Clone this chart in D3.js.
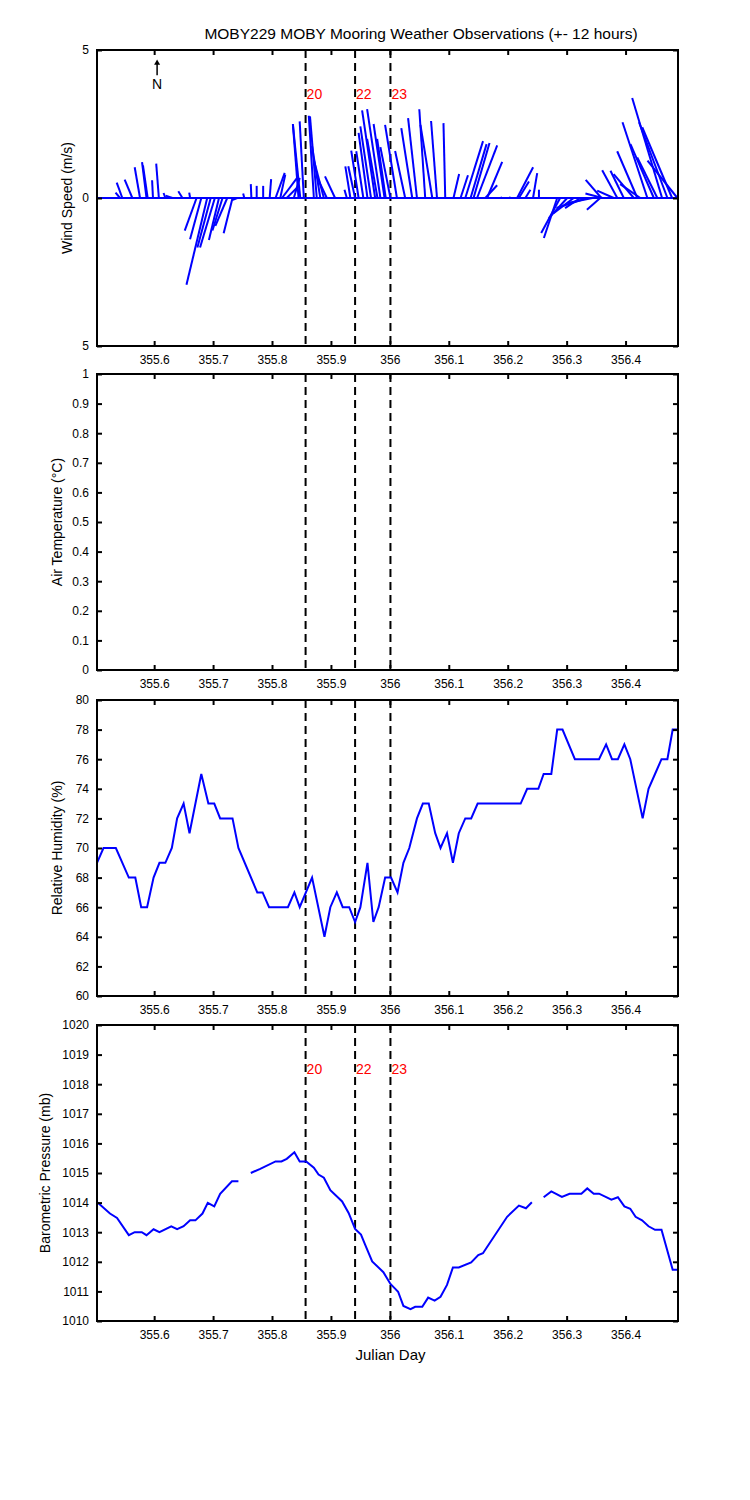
<!DOCTYPE html>
<html>
<head>
<meta charset="utf-8">
<script src="https://cdn.jsdelivr.net/npm/d3@7"></script>
<style>
  body { margin: 0; background: #fff; }
  text { font-family: 'Liberation Sans', Arial, sans-serif; }
</style>
</head>
<body>
<div id="chart"></div>
<script>
// x axis (Julian day)
const xTicks = [355.6, 355.7, 355.8, 355.9, 356, 356.1, 356.2, 356.3, 356.4]
const eventTimes = [355.857, 355.941, 356.001]
const eventLabels = ['20', '22', '23']

// wind sticks: start time, east and north components (m/s)
const windTime = [
  355.542, 355.546, 355.563, 355.576, 355.587, 355.589, 355.598, 355.608, 355.619, 355.631, 355.648, 355.661,
  355.672, 355.680, 355.690, 355.696, 355.703, 355.710, 355.716, 355.724, 355.733, 355.741,
  355.753, 355.765, 355.774, 355.785, 355.796, 355.806, 355.814, 355.817, 355.825, 355.837,
  355.845, 355.848, 355.854, 355.871, 355.876, 355.882, 355.888, 355.893, 355.907, 355.927, 355.933, 355.941,
  355.947, 355.955, 355.962, 355.968, 355.975, 355.979, 355.984, 355.991, 355.993,
  356.001, 356.012, 356.026, 356.038, 356.046, 356.060, 356.072, 356.080, 356.094,
  356.108, 356.120, 356.128, 356.137, 356.142, 356.148, 356.162, 356.165, 356.188, 356.205,
  356.216, 356.219, 356.230, 356.243, 356.253,
  356.284, 356.289, 356.301, 356.312, 356.323, 356.335, 356.344, 356.357, 356.359, 356.361,
  356.380, 356.386, 356.397, 356.414, 356.420, 356.425, 356.437, 356.448, 356.454, 356.462, 356.471, 356.479, 356.488
]
const windU = [
  -0.15, -0.19, -0.26, -0.18, -0.15, -0.16, -0.03, -0.09, -0.06, -0.23, -0.14, -0.03,
  -0.40, -0.38, -0.70, -0.45, -0.50, -0.34, -0.34, -0.40, -0.30, -0.17,
  -0.04, -0.02, 0, 0, 0.05, 0.31, 0.17, 0.51, 0.40, 0.20,
  -0.19, -0.25, -0.14, -0.17, -0.23, -0.28, -0.34, -0.34, -0.34, -0.08, -0.17, -0.23,
  -0.25, -0.24, -0.30, -0.36, -0.44, -0.35, -0.45, -0.37, -0.29,
  -0.34, -0.40, -0.34, -0.37, -0.30, -0.20, -0.40, -0.20, -0.06,
  0.19, 0.25, 0.60, 0.54, 0.54, 0.68, 0.40, 0.51, 0.05, -0.05,
  0.54, 0.34, 0.17, 0.14, 0,
  -0.45, -0.64, -0.62, -0.68, -0.51, -1.04, -0.84, -0.45, -0.53, -0.58,
  -0.56, -0.51, -0.45, -0.68, -0.68, -0.68, -0.84, -0.79, -0.68, -1.01, -0.96, -1.01, -1.01
]
const windV = [
  0.18, 0.52, 0.62, 1.04, 1.21, 1.10, 0.60, 1.16, 0.17, 0.08, 0.23, 0.18,
  -1.10, -1.39, -2.93, -1.67, -1.67, -1.42, -1.10, -0.94, -1.19, -0.07,
  0.15, 0.47, 0.41, 0.41, 0.64, 0.85, 0.79, 0.68, 0.40, 0.68,
  2.50, 2.48, 2.59, 2.78, 2.76, 1.75, 1.29, 0.73, 0.73, 0.28, 1.07, 1.07,
  1.60, 1.58, 2.20, 2.42, 2.96, 2.00, 3.00, 2.50, 2.00,
  1.72, 2.47, 1.59, 2.36, 2.70, 3.00, 2.47, 2.60, 2.53,
  0.81, 0.77, 1.92, 1.82, 1.86, 1.78, 0.43, 1.22, 0.02, 0.03,
  1.04, 0.56, 0.28, 0.84, 0.28,
  -1.35, -1.18, -0.68, -0.51, -0.34, -0.34, -0.17, -0.40, 0.61, 0.15,
  0.25, 0.94, 0.92, 0.81, 1.58, 0.47, 2.56, 1.82, 1.37, 3.38, 2.56, 2.39, 1.26
]

// relative humidity (%)
const humTime = [
  355.503, 355.514, 355.535, 355.557, 355.568, 355.578, 355.588, 355.599, 355.609, 355.619,
  355.630, 355.639, 355.650, 355.660, 355.680, 355.692, 355.702, 355.712, 355.733, 355.743,
  355.775, 355.784, 355.795, 355.827, 355.838, 355.847, 355.868, 355.889, 355.899, 355.910,
  355.920, 355.931, 355.941, 355.950, 355.962, 355.972, 355.981, 355.992, 356.002, 356.013,
  356.023, 356.033, 356.046, 356.056, 356.066, 356.077, 356.086, 356.097, 356.107, 356.117,
  356.128, 356.138, 356.149, 356.222, 356.233, 356.252, 356.261, 356.274, 356.284, 356.293,
  356.314, 356.355, 356.367, 356.377, 356.387, 356.398, 356.408, 356.429, 356.439, 356.450,
  356.461, 356.471, 356.480, 356.489
]
const humValue = [
  69, 70, 70, 68, 68, 66, 66, 68, 69, 69,
  70, 72, 73, 71, 75, 73, 73, 72, 72, 70,
  67, 67, 66, 66, 67, 66, 68, 64, 66, 67,
  66, 66, 65, 66, 69, 65, 66, 68, 68, 67,
  69, 70, 72, 73, 73, 71, 70, 71, 69, 71,
  72, 72, 73, 73, 74, 74, 75, 75, 78, 78,
  76, 76, 77, 76, 76, 77, 76, 72, 74, 75,
  76, 76, 78, 78
]

// barometric pressure (mb), null = missing
const presTime = [
  355.504, 355.525, 355.537, 355.557, 355.567, 355.579, 355.587, 355.599, 355.609, 355.629,
  355.639, 355.650, 355.661, 355.670, 355.682, 355.691, 355.702, 355.712, 355.732, 355.743,
  355.753, 355.764, 355.780, 355.806, 355.816, 355.825, 355.838, 355.847, 355.858, 355.871,
  355.879, 355.888, 355.899, 355.919, 355.930, 355.941, 355.951, 355.958, 355.970, 355.989,
  356.001, 356.008, 356.014, 356.023, 356.035, 356.043, 356.055, 356.065, 356.076, 356.086,
  356.097, 356.107, 356.117, 356.138, 356.150, 356.158, 356.199, 356.219, 356.231, 356.241,
  356.251, 356.261, 356.274, 356.292, 356.305, 356.325, 356.335, 356.346, 356.355, 356.376,
  356.387, 356.398, 356.408, 356.417, 356.428, 356.439, 356.450, 356.461, 356.480, 356.489
]
const presValue = [
  1014.0, 1013.63, 1013.48, 1012.9, 1013.0, 1013.0, 1012.9, 1013.1, 1013.0, 1013.2,
  1013.1, 1013.2, 1013.4, 1013.4, 1013.63, 1013.99, 1013.87, 1014.3, 1014.72, 1014.72,
  null, 1015.0, 1015.14, 1015.39, 1015.39, 1015.48, 1015.7, 1015.39, 1015.39, 1015.18,
  1014.95, 1014.84, 1014.42, 1014.04, 1013.65, 1013.11, 1012.92, 1012.58, 1012.01, 1011.65,
  1011.25, 1011.11, 1010.99, 1010.51, 1010.4, 1010.48, 1010.48, 1010.79, 1010.69, 1010.82,
  1011.22, 1011.81, 1011.81, 1011.98, 1012.23, 1012.29, 1013.52, 1013.9, 1013.81, 1014.01,
  null, 1014.18, 1014.38, 1014.19, 1014.3, 1014.3, 1014.48, 1014.3, 1014.3, 1014.1,
  1014.18, 1013.87, 1013.79, 1013.52, 1013.4, 1013.2, 1013.08, 1013.08, 1011.73, 1011.73
]

// y ticks
const windTicks = [-5, 0, 5]
const windTickLabels = ['5', '0', '5']
const tempTicks = [0, 0.1, 0.2, 0.3, 0.4, 0.5, 0.6, 0.7, 0.8, 0.9, 1]
const humTicks = [60, 62, 64, 66, 68, 70, 72, 74, 76, 78, 80]
const presTicks = [1010, 1011, 1012, 1013, 1014, 1015, 1016, 1017, 1018, 1019, 1020]

const width = 750
const height = 1500
const left = 97
const right = 678
const panelH = 296
const blue = '#0000ff'

const svg = d3.select('#chart')
  .append('svg')
  .attr('width', width)
  .attr('height', height)

const x = d3.scaleLinear().domain([355.503, 356.489]).range([left, right])

svg.append('text')
  .attr('x', 421)
  .attr('y', 39)
  .attr('text-anchor', 'middle')
  .style('font-size', '15.5px')
  .text('MOBY229 MOBY Mooring Weather Observations (+- 12 hours)')

const xLabel = (top) => {
  svg.append('text')
    .attr('x', (left + right) / 2 + 3)
    .attr('y', top + panelH + 39)
    .attr('text-anchor', 'middle')
    .style('font-size', '15px')
    .text('Julian Day')
}

const makePanel = (top, domain, ticks, tickLabels, label, labelX) => {
  let y = d3.scaleLinear().domain(domain).range([top + panelH, top])
  let g = svg.append('g')

  g.append('rect')
    .attr('x', left)
    .attr('y', top)
    .attr('width', right - left)
    .attr('height', panelH)
    .attr('fill', '#fff')

  let plot = g.append('g')

  // event lines
  plot.selectAll('.event')
    .data(eventTimes)
    .enter()
    .append('line')
    .attr('x1', d => x(d))
    .attr('x2', d => x(d))
    .attr('y1', top)
    .attr('y2', top + panelH)
    .attr('stroke', '#000')
    .attr('stroke-width', 2)
    .attr('stroke-dasharray', '8,5')

  let axes = g.append('g')
  const fmt = (d, i) => tickLabels[i]

  axes.append('g')
    .attr('transform', `translate(${left},0)`)
    .call(d3.axisLeft(y).tickValues(ticks).tickFormat(fmt).tickSizeInner(-5).tickSizeOuter(0).tickPadding(8))
  axes.append('g')
    .attr('transform', `translate(${right},0)`)
    .call(d3.axisRight(y).tickValues(ticks).tickFormat('').tickSizeInner(-5).tickSizeOuter(0))
  axes.append('g')
    .attr('transform', `translate(0,${top + panelH})`)
    .call(d3.axisBottom(x).tickValues(xTicks).tickFormat(d => +d.toFixed(1)).tickSizeInner(-5).tickSizeOuter(0).tickPadding(9))
  axes.append('g')
    .attr('transform', `translate(0,${top})`)
    .call(d3.axisTop(x).tickValues(xTicks).tickFormat('').tickSizeInner(-5).tickSizeOuter(0))

  axes.selectAll('.domain').remove()
  axes.selectAll('.tick line').attr('stroke', '#000').attr('stroke-width', 2)
  axes.selectAll('.tick text')
    .attr('fill', '#000')
    .style('font-family', "'Liberation Sans', Arial, sans-serif")
    .style('font-size', '12px')

  g.append('rect')
    .attr('x', left)
    .attr('y', top)
    .attr('width', right - left)
    .attr('height', panelH)
    .attr('fill', 'none')
    .attr('stroke', '#000')
    .attr('stroke-width', 2)

  g.append('text')
    .attr('transform', `translate(${labelX},${top + panelH / 2}) rotate(-90)`)
    .attr('text-anchor', 'middle')
    .attr('dy', '0.35em')
    .style('font-size', '14px')
    .text(label)

  return { y, plot }
}

const eventText = (plot, y, value) => {
  plot.selectAll('.evlabel')
    .data(eventTimes)
    .enter()
    .append('text')
    .attr('x', d => x(d) + 1)
    .attr('y', y(value))
    .attr('dy', '0.35em')
    .attr('fill', '#ff0000')
    .style('font-size', '14px')
    .text((d, i) => eventLabels[i])
}

// wind panel
const wind = makePanel(50, [-5, 5], windTicks, windTickLabels, 'Wind Speed (m/s)', 67)
const yw = wind.y
const k = yw(0) - yw(1)

wind.plot.append('line')
  .attr('x1', left)
  .attr('x2', right)
  .attr('y1', yw(0))
  .attr('y2', yw(0))
  .attr('stroke', blue)
  .attr('stroke-width', 2)

wind.plot.selectAll('.stick')
  .data(windTime)
  .enter()
  .append('line')
  .attr('class', 'stick')
  .attr('x1', d => x(d))
  .attr('y1', yw(0))
  .attr('x2', (d, i) => x(d) + windU[i] * k)
  .attr('y2', (d, i) => yw(windV[i]))
  .attr('stroke', blue)
  .attr('stroke-width', 2)

eventText(wind.plot, yw, 3.5)

// north arrow
const nx = x(355.605)
wind.plot.append('line')
  .attr('x1', nx).attr('x2', nx)
  .attr('y1', yw(4.15)).attr('y2', yw(4.55))
  .attr('stroke', '#000')
  .attr('stroke-width', 1.5)
wind.plot.append('path')
  .attr('d', `M${nx - 3},${yw(4.5)} L${nx},${yw(4.68)} L${nx + 3},${yw(4.5)} Z`)
  .attr('fill', '#000')
wind.plot.append('text')
  .attr('x', nx)
  .attr('y', yw(3.85))
  .attr('dy', '0.35em')
  .attr('text-anchor', 'middle')
  .style('font-size', '14px')
  .text('N')

xLabel(50)

// air temperature panel (no data)
makePanel(374, [0, 1], tempTicks, tempTicks.map(String), 'Air Temperature (°C)', 57)

// humidity panel
const hum = makePanel(700, [60, 80], humTicks, humTicks.map(String), 'Relative Humidity (%)', 57)
hum.plot.append('path')
  .datum(humTime)
  .attr('d', d3.line().x(d => x(d)).y((d, i) => hum.y(humValue[i])))
  .attr('fill', 'none')
  .attr('stroke', blue)
  .attr('stroke-width', 2)

// pressure panel
const pres = makePanel(1025, [1010, 1020], presTicks, presTicks.map(String), 'Barometric Pressure (mb)', 45)
pres.plot.append('path')
  .datum(presTime)
  .attr('d', d3.line()
    .defined((d, i) => presValue[i] !== null)
    .x(d => x(d))
    .y((d, i) => pres.y(presValue[i])))
  .attr('fill', 'none')
  .attr('stroke', blue)
  .attr('stroke-width', 2)

eventText(pres.plot, pres.y, 1018.5)
xLabel(1025)
</script>
</body>
</html>
